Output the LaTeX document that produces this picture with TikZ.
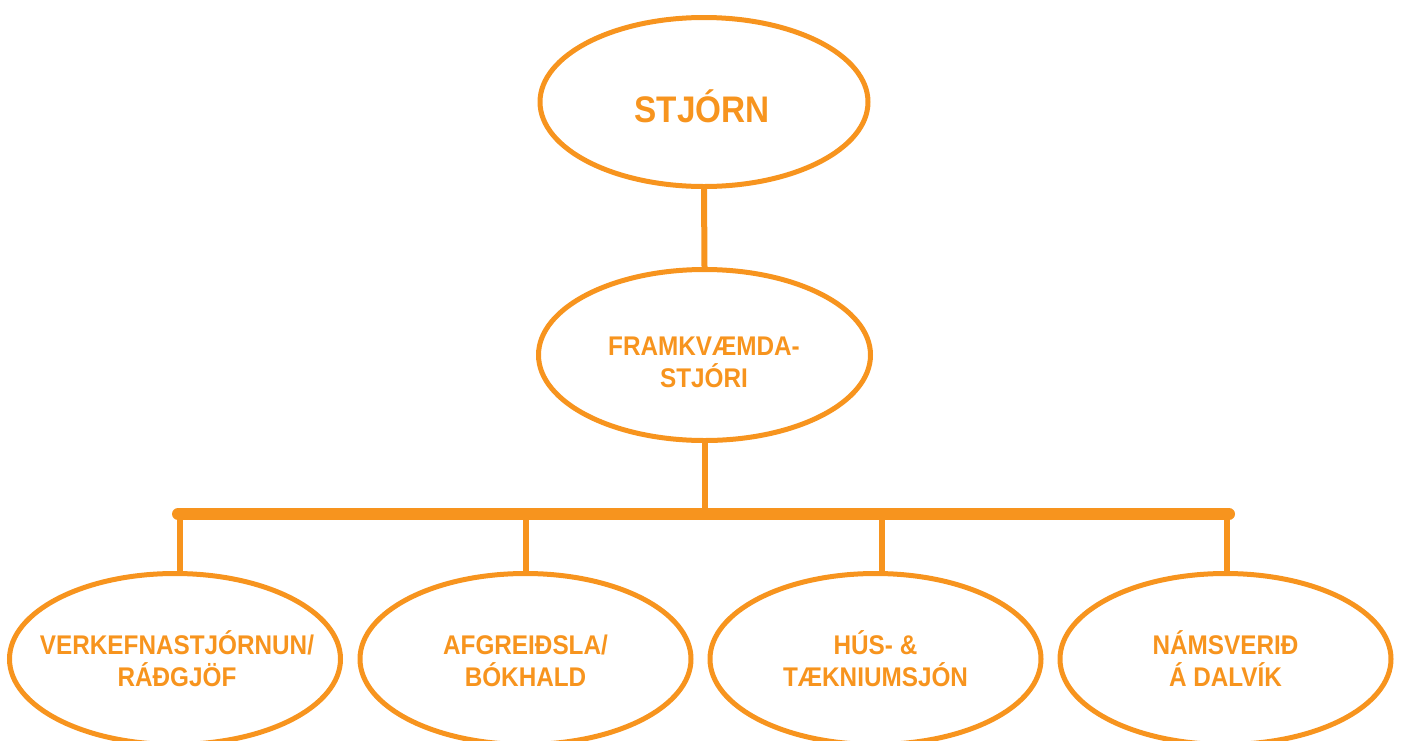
\documentclass[tikz,border=0pt]{standalone}
\usepackage{fontspec}
\newfontfamily\lblfont[FakeStretch=0.9]{Liberation Sans}
\usetikzlibrary{shapes.geometric}
\definecolor{org}{HTML}{F7941E}
\begin{document}
\begin{tikzpicture}[x=1pt,y=-1pt,
  ell/.style={ellipse,draw=org,line width=5pt,minimum width=331pt,minimum height=171pt,inner sep=0pt},
  lbl/.style={text=org,font=\lblfont\bfseries\fontsize{27}{32}\selectfont,align=center,anchor=base,inner sep=0pt},
  big/.style={text=org,font=\lblfont\bfseries\fontsize{37}{40}\selectfont,anchor=base,inner sep=0pt},
  conn/.style={draw=org,line width=6pt},
  barline/.style={draw=org,line width=12pt,line cap=round}]
\useasboundingbox (0,0) rectangle (1401,740);
% ellipses
\node[ell,minimum width=328pt,minimum height=169pt] (stj) at (704,102) {};
\node[ell,minimum width=332pt] (fram) at (704.5,355) {};
\node[ell] (verk) at (175,659) {};
\node[ell] (afgr) at (525.5,659) {};
\node[ell] (hus) at (875.5,659) {};
\node[ell] (nams) at (1225.5,659) {};
% texts
\node[big] (tstj) at (702,122) {STJÓRN};
\node[lbl] (tfram) at (704,387) {FRAMKVÆMDA-\\STJÓRI};
\node[lbl] (tverk) at (177,686) {VERKEFNASTJÓRNUN/\\RÁÐGJÖF};
\node[lbl] (tafgr) at (525.5,686) {AFGREIÐSLA/\\BÓKHALD};
\node[lbl] (thus) at (875.5,686) {HÚS- \&\\TÆKNIUMSJÓN};
\node[lbl] (tnams) at (1225.5,686) {NÁMSVERIÐ\\Á DALVÍK};
% connectors
\coordinate (barL) at (178,514);
\coordinate (barR) at (1229,514);
\coordinate (b1) at (180,514);
\coordinate (b2) at (525.5,514);
\coordinate (b3) at (882,514);
\coordinate (b4) at (1227,514);
\draw[conn] (stj.south) -- (fram.north);
\draw[conn] (fram.south) -- (fram.south |- barL);
\draw[conn] (b1) -- (b1 |- verk.north);
\draw[conn] (b2) -- (b2 |- afgr.north);
\draw[conn] (b3) -- (b3 |- hus.north);
\draw[conn] (b4) -- (b4 |- nams.north);
\draw[barline] (barL) -- (barR);
\end{tikzpicture}
\end{document}
